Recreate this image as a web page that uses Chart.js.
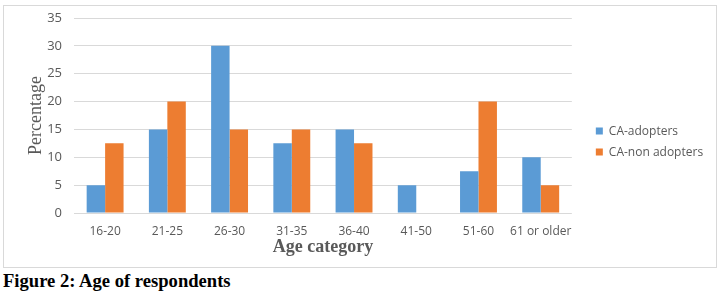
<!DOCTYPE html>
<html>
<head>
<meta charset="utf-8">
<script src="https://cdn.jsdelivr.net/npm/chart.js@4/dist/chart.umd.min.js"></script>
<style>
  body { margin: 0; background: #fff; }
  #box { position: absolute; left: 3px; top: 5px; width: 712px; height: 261px; border: 1px solid #d9d9d9; }
  #caption { position: absolute; left: 3px; top: 270px; font: bold 18.6px "Liberation Serif", serif; color: #000; }
</style>
</head>
<body>
<div id="box"><canvas id="chart" width="712" height="261"></canvas></div>
<div id="caption">Figure 2: Age of respondents</div>
<script>
const categories = ["16-20", "21-25", "26-30", "31-35", "36-40", "41-50", "51-60", "61 or older"]
const adopters = [5, 15, 30, 12.5, 15, 5, 7.5, 10]
const nonAdopters = [12.5, 20, 15, 15, 12.5, 0, 20, 5]
const yTicks = [0, 5, 10, 15, 20, 25, 30, 35]

const grey = "#595959"
const smallFont = { family: "'Open Sans', sans-serif", size: 12 }

// give the legend some extra room on its right so the long label isn't cut
const widenLegend = {
    id: "widenLegend",
    beforeUpdate(chart) {
        const lg = chart.legend
        if (lg && !lg._widened) {
            const fit = lg.fit
            lg.fit = function () { fit.call(this); this.width += 14 }
            lg._widened = true
        }
    }
}

const ctx = document.getElementById("chart").getContext("2d")
const chart = new Chart(ctx, {
    type: "bar",
    data: {
        labels: categories,
        datasets: [
            { label: "CA-adopters", data: adopters, backgroundColor: "#5B9BD5" },
            { label: "CA-non adopters", data: nonAdopters, backgroundColor: "#ED7D31" }
        ]
    },
    options: {
        responsive: false,
        animation: false,
        layout: { padding: { top: 12, right: 0, left: 21, bottom: 9 } },
        datasets: { bar: { barPercentage: 1, categoryPercentage: 0.593 } },
        plugins: {
            tooltip: { enabled: false },
            legend: {
                position: "right",
                // empty title only pushes the items down a little
                title: { display: true, text: "", padding: 0, font: { size: 6 } },
                labels: { boxWidth: 7, boxHeight: 7, padding: 9, color: grey, font: smallFont }
            }
        },
        scales: {
            x: {
                grid: { display: false, drawTicks: false },
                border: { display: false },
                ticks: { color: grey, font: smallFont, padding: 11, maxRotation: 0, autoSkip: false },
                title: {
                    display: true, text: "Age category", color: grey,
                    font: { family: "'Liberation Serif', serif", size: 18, weight: "bold" },
                    padding: 0
                },
                afterFit: s => { s.height = 45 }
            },
            y: {
                min: 0, max: 35,
                afterBuildTicks: axis => { axis.ticks = yTicks.map(v => ({ value: v })) },
                grid: { color: "#d9d9d9", drawTicks: false },
                border: { display: false },
                ticks: { color: grey, font: { family: "'Open Sans', sans-serif", size: 13 }, padding: 12 },
                title: {
                    display: true, text: "Percentage", color: grey,
                    font: { family: "'Liberation Serif', serif", size: 18 },
                    padding: 0
                },
                afterFit: s => { s.width = 49; s.paddingTop = 6; s.paddingBottom = 6 }
            },
            // empty spacer between the plot and the legend
            gap: {
                position: "right",
                grid: { display: false, drawTicks: false },
                border: { display: false },
                ticks: { display: false },
                afterFit: s => { s.width = 15; s.paddingTop = 0; s.paddingBottom = 0 }
            }
        }
    },
    plugins: [widenLegend]
})
</script>
</body>
</html>
